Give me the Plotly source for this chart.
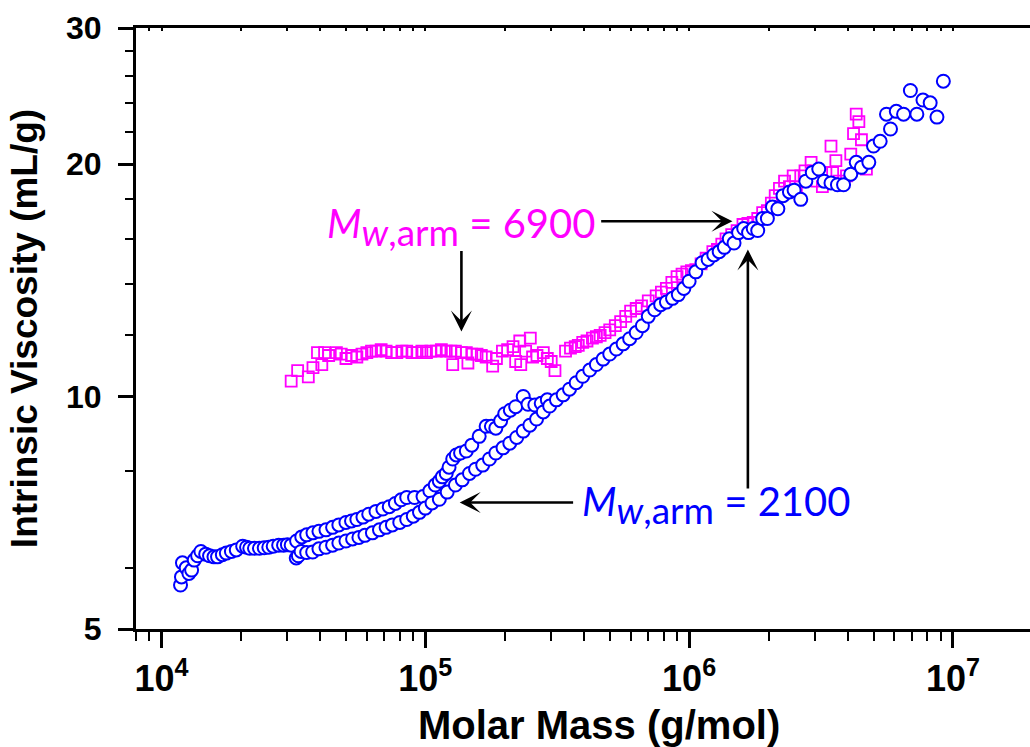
import math
import plotly.graph_objects as go

# ---------------- data ----------------
# Mw,arm = 2100 sample (blue circles), run A
mass_2100_a = [1.18e4, 1.19e4, 1.2e4, 1.24e4, 1.27e4, 1.30e4, 1.33e4, 1.37e4, 1.41e4, 1.47e4,
               1.52e4, 1.58e4, 1.63e4, 1.70e4, 1.76e4, 1.84e4, 1.92e4, 2.03e4, 2.10e4, 2.16e4,
               2.25e4, 2.35e4, 2.45e4, 2.55e4, 2.65e4, 2.78e4, 2.90e4, 3.00e4, 3.10e4, 3.25e4,
               3.40e4, 3.55e4, 3.75e4, 3.95e4, 4.20e4, 4.45e4, 4.70e4, 5.00e4, 5.25e4, 5.50e4,
               5.80e4, 6.10e4, 6.50e4, 6.90e4, 7.30e4, 7.70e4, 8.10e4, 8.50e4, 9.10e4, 9.80e4,
               1.04e5, 1.09e5, 1.13e5, 1.16e5, 1.20e5, 1.23e5, 1.27e5, 1.31e5, 1.36e5, 1.43e5,
               1.50e5, 1.60e5, 1.70e5, 1.78e5, 1.85e5, 1.93e5, 2.00e5, 2.10e5, 2.20e5, 2.35e5,
               2.45e5, 2.60e5, 2.75e5, 2.90e5]
iv_2100_a = [5.70, 5.84, 6.09, 6.00, 5.90, 5.96, 6.14, 6.22, 6.30, 6.25,
             6.22, 6.20, 6.20, 6.24, 6.27, 6.30, 6.33, 6.40, 6.38, 6.36,
             6.36, 6.36, 6.37, 6.38, 6.40, 6.42, 6.42, 6.43, 6.42, 6.50,
             6.58, 6.62, 6.66, 6.69, 6.72, 6.77, 6.82, 6.87, 6.90, 6.93,
             6.98, 7.04, 7.10, 7.15, 7.20, 7.27, 7.35, 7.40, 7.40, 7.42,
             7.55, 7.68, 7.77, 7.87, 7.95, 8.10, 8.30, 8.40, 8.45, 8.50,
             8.65, 8.88, 9.15, 9.15, 9.10, 9.30, 9.50, 9.60, 9.70, 10.0,
             9.77, 9.75, 9.80, 9.90]

# Mw,arm = 2100 sample, run B
mass_2100_b = [3.24e4, 3.30e4, 3.38e4, 3.55e4, 3.74e4, 3.95e4, 4.20e4, 4.45e4, 4.70e4, 5.00e4,
               5.30e4, 5.60e4, 5.90e4, 6.30e4, 6.70e4, 7.10e4, 7.50e4, 8.00e4, 8.50e4, 9.00e4,
               9.50e4, 1.00e5, 1.06e5, 1.13e5,
               1.21e5, 1.30e5, 1.38e5, 1.47e5, 1.55e5, 1.65e5, 1.75e5, 1.85e5, 1.97e5, 2.09e5,
               2.22e5, 2.35e5, 2.49e5, 2.64e5, 2.80e5, 2.96e5, 3.14e5, 3.33e5, 3.52e5, 3.73e5,
               3.95e5, 4.20e5, 4.45e5, 4.72e5, 5.00e5, 5.30e5, 5.62e5, 5.95e5, 6.30e5, 6.65e5,
               7.00e5, 7.40e5, 7.80e5, 8.20e5, 8.65e5, 9.10e5, 9.55e5, 1.00e6, 1.06e6, 1.12e6,
               1.18e6, 1.24e6, 1.30e6, 1.36e6, 1.42e6, 1.48e6, 1.54e6, 1.61e6, 1.68e6, 1.75e6,
               1.82e6, 1.90e6, 1.98e6, 2.07e6, 2.17e6, 2.27e6, 2.40e6, 2.50e6, 2.65e6, 2.77e6,
               2.93e6, 3.10e6, 3.25e6, 3.45e6, 3.65e6, 3.85e6, 4.10e6, 4.30e6, 4.50e6, 4.80e6,
               5.00e6, 5.30e6, 5.60e6, 5.80e6, 6.10e6, 6.50e6, 6.90e6, 7.30e6, 7.70e6, 8.20e6,
               8.70e6, 9.20e6]
iv_2100_b = [6.18, 6.22, 6.30, 6.28, 6.29, 6.35, 6.38, 6.42, 6.46, 6.50,
             6.54, 6.57, 6.61, 6.66, 6.72, 6.77, 6.82, 6.87, 6.93, 7.00,
             7.08, 7.17, 7.28, 7.36,
             7.52, 7.68, 7.80, 7.95, 8.05, 8.15, 8.30, 8.45, 8.58, 8.70,
             8.85, 9.02, 9.18, 9.35, 9.55, 9.72, 9.90, 10.05, 10.22, 10.42,
             10.62, 10.82, 11.0, 11.18, 11.35, 11.52, 11.7, 11.88, 12.1, 12.35,
             12.7, 12.95, 13.15, 13.25, 13.4, 13.55, 13.8, 14.1, 14.5, 14.9,
             15.05, 15.25, 15.4, 15.6, 16.0, 15.8, 16.3, 16.5, 16.3, 16.5,
             16.4, 17.0, 17.0, 17.6, 17.5, 18.2, 18.4, 18.5, 18.0, 19.0,
             19.5, 19.7, 19.0, 18.9, 18.8, 18.8, 19.4, 20.1, 19.8, 20.1,
             21.1, 21.4, 23.2, 22.2, 23.4, 23.2, 24.9, 23.2, 24.2, 24.0,
             23.0, 25.6]

# Mw,arm = 6900 sample (magenta squares)
mass_6900 = [3.1e4, 3.28e4, 3.6e4, 3.75e4, 3.9e4, 4.05e4, 4.15e4, 4.3e4, 4.6e4, 4.8e4,
             5.0e4, 5.25e4, 5.5e4, 5.75e4, 6.0e4, 6.25e4, 6.5e4, 6.8e4, 7.1e4, 7.45e4,
             7.8e4, 8.15e4, 8.5e4, 8.9e4, 9.3e4, 9.7e4, 1.01e5, 1.05e5, 1.1e5, 1.15e5,
             1.2e5, 1.25e5, 1.27e5, 1.3e5, 1.37e5, 1.43e5, 1.45e5, 1.5e5, 1.57e5, 1.63e5,
             1.7e5, 1.8e5, 1.86e5, 1.96e5, 2.05e5, 2.15e5, 2.2e5, 2.28e5, 2.3e5, 2.4e5,
             2.5e5, 2.55e5, 2.65e5, 2.8e5, 2.9e5, 3.0e5, 3.1e5, 3.4e5, 3.55e5, 3.7e5,
             3.8e5, 3.95e5, 4.1e5, 4.3e5, 4.45e5, 4.6e5, 4.8e5, 5.0e5, 5.25e5, 5.5e5,
             5.75e5, 6.0e5, 6.3e5, 6.6e5, 7.0e5, 7.5e5, 7.85e5, 8.2e5, 8.6e5, 9.0e5,
             9.4e5, 9.8e5, 1.02e6, 1.06e6, 1.11e6, 1.16e6, 1.23e6, 1.28e6, 1.33e6, 1.38e6,
             1.45e6, 1.52e6, 1.6e6, 1.67e6, 1.75e6, 1.82e6, 1.9e6, 1.98e6, 2.05e6, 2.12e6,
             2.2e6, 2.3e6, 2.4e6, 2.48e6, 2.55e6, 2.65e6, 2.75e6, 2.9e6, 2.95e6, 3.05e6,
             3.2e6, 3.3e6, 3.45e6, 3.5e6, 3.6e6, 3.7e6, 3.95e6, 4.1e6, 4.2e6, 4.3e6,
             4.4e6, 4.5e6, 4.7e6]
iv_6900 = [10.47, 10.8, 10.6, 10.9, 11.4, 11.0, 11.4, 11.3, 11.4, 11.35,
           11.2, 11.3, 11.25, 11.35, 11.4, 11.45, 11.45, 11.5, 11.45, 11.4,
           11.4, 11.45, 11.45, 11.4, 11.4, 11.45, 11.4, 11.45, 11.45, 11.5,
           11.45, 11.45, 11.0, 11.45, 11.4, 11.4, 11.05, 11.35, 11.35, 11.3,
           11.25, 10.95, 11.2, 11.45, 11.5, 11.6, 11.1, 11.8, 11.0, 11.45,
           11.9, 11.25, 11.3, 11.4, 11.2, 11.1, 10.8, 11.45, 11.55, 11.6,
           11.65, 11.75, 11.8, 11.9, 11.95, 12.0, 12.1, 12.2, 12.35, 12.5,
           12.7, 12.9, 13.0, 13.1, 13.3, 13.5, 13.65, 13.8, 14.05, 14.3,
           14.4, 14.5, 14.55, 14.6, 14.85, 15.1, 15.4, 15.5, 15.75, 16.0,
           16.2, 16.4, 16.7, 16.75, 16.8, 17.0, 17.3, 17.4, 17.8, 18.2,
           18.6, 19.0, 18.7, 19.3, 18.4, 19.3, 19.6, 20.1, 19.6, 19.0,
           18.7, 19.5, 21.1, 19.5, 20.2, 19.0, 19.3, 20.6, 21.9, 23.2,
           22.7, 21.5, 19.7]

# axes
x_major = [1e4, 1e5, 1e6, 1e7]
x_major_text = ["10<sup>4</sup>", "10<sup>5</sup>", "10<sup>6</sup>", "10<sup>7</sup>"]
x_minor = [m * d for d in [1e3, 1e4, 1e5, 1e6, 1e7] for m in range(2, 10)]
y_major = [5, 10, 20, 30]
y_major_text = ["5", "10", "20", "30"]
y_minor = [6, 8, 12, 14, 16, 18, 22, 24, 26, 28]
x_lim = [8.0e3, 1.96e7]
y_lim = [5, 30]
x_title = "Molar Mass (g/mol)"
y_title = "Intrinsic Viscosity (mL/g)"

# annotation anchors (data units)
SUB = "<sub><span style='font-size:37px'><i>w</i>,arm</span></sub>"
label_6900 = dict(mass=4.15e4, iv=16.6, text="<i>M</i>" + SUB + " = 6900", color="#FF00FF")
label_2100 = dict(mass=3.85e5, iv=7.24, text="<i>M</i>" + SUB + " = 2100", color="#0000FF")
arrows = [  # (tail mass, tail iv, head mass, head iv)
    (4.58e5, 16.86, 1.46e6, 16.86),
    (1.37e5, 15.5, 1.37e5, 12.14),
    (3.68e5, 7.29, 1.35e5, 7.29),
    (1.67e6, 7.57, 1.67e6, 15.5),
]

L = math.log10
FONT = "Liberation Sans, Arial, sans-serif"

fig = go.Figure()
fig.add_trace(go.Scatter(
    x=mass_6900, y=iv_6900, mode="markers", showlegend=False, hoverinfo="skip",
    marker=dict(symbol="square-open", size=11, color="#FF00FF", line=dict(width=1.8, color="#FF00FF"))))
fig.add_trace(go.Scatter(
    x=mass_2100_a + mass_2100_b, y=iv_2100_a + iv_2100_b, mode="markers", showlegend=False,
    hoverinfo="skip",
    marker=dict(symbol="circle", size=13, color="white", line=dict(width=2, color="#0000FF"))))
# helper trace for the top (mirror) axis ticks
fig.add_trace(go.Scatter(x=[1e5], y=[10], xaxis="x2", mode="markers", showlegend=False,
                         hoverinfo="skip", marker=dict(opacity=0)))

fig.update_layout(
    width=1030, height=747,
    margin=dict(l=136, r=0, t=28, b=118),
    paper_bgcolor="white", plot_bgcolor="white",
    font=dict(family=FONT, color="black"),
    xaxis=dict(
        type="log", range=[L(x_lim[0]), L(x_lim[1])],
        showline=True, linewidth=3, linecolor="black", mirror=True,
        showgrid=False, zeroline=False,
        ticks="outside", ticklen=16, tickwidth=2.5, tickcolor="black",
        tickmode="array", tickvals=x_major, ticktext=x_major_text,
        tickfont=dict(size=36, family=FONT, weight="bold"),
        minor=dict(tickmode="array", tickvals=x_minor, ticks="outside", ticklen=9,
                   tickwidth=2, tickcolor="black", showgrid=False),
    ),
    xaxis2=dict(
        type="log", range=[L(x_lim[0]), L(x_lim[1])], overlaying="x", side="top",
        showline=False, showgrid=False, zeroline=False, showticklabels=False,
        ticks="inside", ticklen=3, tickwidth=1.5, tickcolor="black",
        tickmode="array", tickvals=x_major,
        minor=dict(tickmode="array", tickvals=x_minor, ticks="inside", ticklen=3,
                   tickwidth=1.5, tickcolor="black", showgrid=False),
    ),
    yaxis=dict(
        type="log", range=[L(y_lim[0]), L(y_lim[1])],
        showline=True, linewidth=3, linecolor="black",
        showgrid=False, zeroline=False,
        ticks="outside", ticklen=15, tickwidth=2.5, tickcolor="black",
        tickmode="array", tickvals=y_major, ticktext=y_major_text,
        tickfont=dict(size=32, family=FONT, weight="bold"),
        ticklabelstandoff=10,
        minor=dict(tickmode="array", tickvals=y_minor, ticks="outside", ticklen=8,
                   tickwidth=2, tickcolor="black", showgrid=False),
        title=dict(text=y_title, font=dict(size=37, family=FONT, weight="bold"),
                   standoff=18),
    ),
)

# x-axis title placed as a paper annotation (centered slightly right of plot center)
fig.add_annotation(x=0.518, y=-0.16, xref="paper", yref="paper", text=x_title,
                   showarrow=False, xanchor="center", yanchor="middle",
                   font=dict(size=40, family=FONT, weight="bold", color="black"))

for lab in (label_6900, label_2100):
    fig.add_annotation(x=L(lab["mass"]), y=L(lab["iv"]), xref="x", yref="y",
                       text=lab["text"], showarrow=False, xanchor="left", yanchor="middle",
                       font=dict(family="Lato, Open Sans, sans-serif", size=40, color=lab["color"]))

for tm, tv, hm, hv in arrows:
    fig.add_annotation(x=L(hm), y=L(hv), ax=L(tm), ay=L(tv), xref="x", yref="y",
                       axref="x", ayref="y", text="", showarrow=True,
                       arrowhead=3, arrowsize=1.35, arrowwidth=2.6, arrowcolor="black",
                       standoff=0, startstandoff=0)

fig.write_html("out.html")
